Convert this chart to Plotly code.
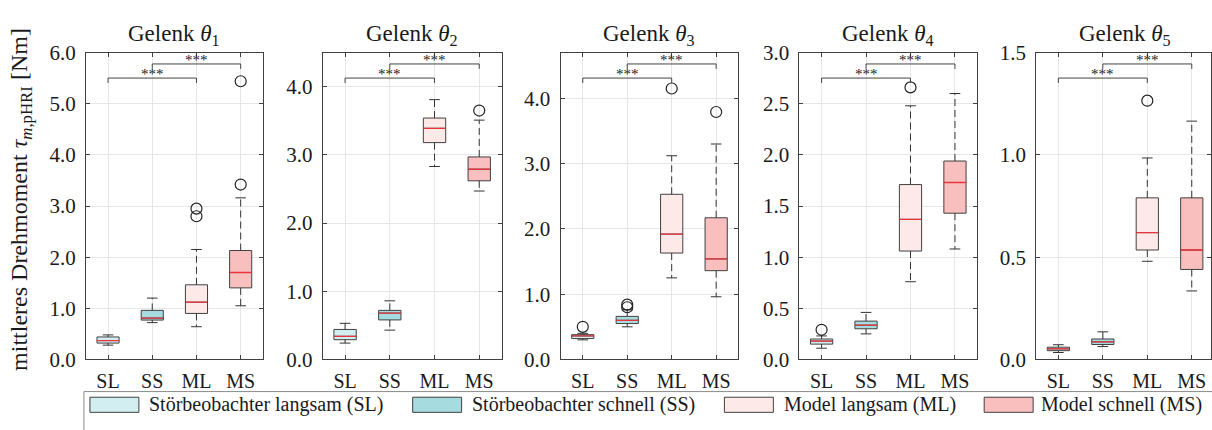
import plotly.graph_objects as go

W, H = 1212, 430

categories = ["SL", "SS", "ML", "MS"]
legend_labels = ["Störbeobachter langsam (SL)", "Störbeobachter schnell (SS)",
                 "Model langsam (ML)", "Model schnell (MS)"]
fill_colors = ["#d3eef0", "#a6dbe0", "#fde9e8", "#f9bfbf"]
joint_titles = ["Gelenk <i>θ</i><sub>1</sub>", "Gelenk <i>θ</i><sub>2</sub>",
                "Gelenk <i>θ</i><sub>3</sub>", "Gelenk <i>θ</i><sub>4</sub>",
                "Gelenk <i>θ</i><sub>5</sub>"]
y_label = "mittleres Drehmoment <i>τ</i><sub><i>m</i>,pHRI</sub> [Nm]"

y_ranges = [[0, 6], [0, 4.5], [0, 4.7], [0, 3], [0, 1.5]]
y_tickvals = [[0, 1, 2, 3, 4, 5, 6], [0, 1, 2, 3, 4], [0, 1, 2, 3, 4],
              [0, 0.5, 1, 1.5, 2, 2.5, 3], [0, 0.5, 1, 1.5]]

# box statistics per joint: order SL, SS, ML, MS
j1_lo = [0.28, 0.72, 0.64, 1.05]
j1_q1 = [0.32, 0.77, 0.90, 1.40]
j1_med = [0.37, 0.81, 1.12, 1.70]
j1_q3 = [0.44, 0.96, 1.46, 2.13]
j1_hi = [0.48, 1.20, 2.15, 3.16]
j1_out = [[], [], [2.80, 2.95], [3.42, 5.44]]

j2_lo = [0.24, 0.43, 2.83, 2.47]
j2_q1 = [0.29, 0.58, 3.18, 2.62]
j2_med = [0.34, 0.68, 3.39, 2.79]
j2_q3 = [0.44, 0.72, 3.54, 2.97]
j2_hi = [0.53, 0.86, 3.81, 3.51]
j2_out = [[], [], [], [3.65]]

j3_lo = [0.30, 0.50, 1.25, 0.96]
j3_q1 = [0.32, 0.55, 1.63, 1.36]
j3_med = [0.36, 0.60, 1.92, 1.54]
j3_q3 = [0.38, 0.66, 2.53, 2.17]
j3_hi = [0.40, 0.76, 3.12, 3.30]
j3_out = [[0.50], [0.80, 0.84], [4.15], [3.79]]

j4_lo = [0.11, 0.25, 0.76, 1.08]
j4_q1 = [0.15, 0.30, 1.06, 1.43]
j4_med = [0.18, 0.335, 1.37, 1.73]
j4_q3 = [0.20, 0.375, 1.71, 1.94]
j4_hi = [0.23, 0.46, 2.48, 2.60]
j4_out = [[0.29], [], [2.66], []]

j5_lo = [0.034, 0.063, 0.48, 0.335]
j5_q1 = [0.043, 0.073, 0.535, 0.44]
j5_med = [0.052, 0.086, 0.62, 0.535]
j5_q3 = [0.060, 0.100, 0.79, 0.79]
j5_hi = [0.072, 0.135, 0.985, 1.165]
j5_out = [[], [], [1.265], []]

comparisons = [(1, 3), (2, 4)]
comparison_text = ["***", "***"]

lo_all = [j1_lo, j2_lo, j3_lo, j4_lo, j5_lo]
q1_all = [j1_q1, j2_q1, j3_q1, j4_q1, j5_q1]
med_all = [j1_med, j2_med, j3_med, j4_med, j5_med]
q3_all = [j1_q3, j2_q3, j3_q3, j4_q3, j5_q3]
hi_all = [j1_hi, j2_hi, j3_hi, j4_hi, j5_hi]
out_all = [j1_out, j2_out, j3_out, j4_out, j5_out]

# ---- layout geometry (pixels) ----
panel_px = [(86, 263), (323, 502), (561, 739), (800, 978), (1037, 1215)]
plot_top, plot_bot = 43, 368
FONT = "Liberation Serif, Times New Roman, serif"
EDGE = "#404040"
MEDIAN = "#e8343c"
BOXW = 0.5
CAPW = 0.12

fig = go.Figure()
layout = dict(width=W, height=H, margin=dict(l=0, r=0, t=0, b=0),
              paper_bgcolor="white", plot_bgcolor="white", showlegend=False,
              font=dict(family=FONT, size=19, color="#1a1a1a"))
shapes = []
annotations = []

for k in range(5):
    ax = "" if k == 0 else str(k + 1)
    xa, ya = "x" + ax, "y" + ax
    l, r = panel_px[k]
    unit = (r - l) / 4.0
    r_clip = min(r, W)
    xrange = [0.5, 0.5 + (r_clip - l) / unit]
    layout["xaxis" + ax] = dict(
        domain=[l / W, r_clip / W], range=xrange, anchor=ya,
        tickvals=[1, 2, 3, 4], ticktext=categories,
        showline=True, linecolor=EDGE, linewidth=1, mirror="ticks",
        ticks="inside", ticklen=4, tickcolor=EDGE,
        showgrid=True, gridcolor="#e6e6e6", gridwidth=1, zeroline=False,
        tickfont=dict(family=FONT, size=20, color="#1a1a1a"),
        ticklabelstandoff=4, fixedrange=True)
    layout["yaxis" + ax] = dict(
        domain=[1 - plot_bot / H, 1 - plot_top / H], range=y_ranges[k], anchor=xa,
        tickvals=y_tickvals[k], tickformat=".1f",
        showline=True, linecolor=EDGE, linewidth=1, mirror="ticks",
        ticks="inside", ticklen=4, tickcolor=EDGE,
        showgrid=True, gridcolor="#e6e6e6", gridwidth=1, zeroline=False,
        tickfont=dict(family=FONT, size=21, color="#1a1a1a"),
        ticklabelstandoff=5, fixedrange=True)

    for i in range(4):
        xp = i + 1
        fig.add_trace(go.Box(
            x=[xp], q1=[q1_all[k][i]], median=[med_all[k][i]], q3=[q3_all[k][i]],
            lowerfence=[q1_all[k][i]], upperfence=[q3_all[k][i]],
            width=BOXW, whiskerwidth=0, fillcolor=fill_colors[i],
            line=dict(color=EDGE, width=1), boxpoints=False,
            xaxis=xa, yaxis=ya, hoverinfo="skip"))
        # dashed whiskers
        fig.add_trace(go.Scatter(
            x=[xp, xp, None, xp, xp],
            y=[q3_all[k][i], hi_all[k][i], None, q1_all[k][i], lo_all[k][i]],
            mode="lines", line=dict(color="#333333", width=1, dash="7px,4px"),
            xaxis=xa, yaxis=ya, hoverinfo="skip"))
        # caps
        fig.add_trace(go.Scatter(
            x=[xp - CAPW, xp + CAPW, None, xp - CAPW, xp + CAPW],
            y=[hi_all[k][i], hi_all[k][i], None, lo_all[k][i], lo_all[k][i]],
            mode="lines", line=dict(color="#333333", width=1),
            xaxis=xa, yaxis=ya, hoverinfo="skip"))
        # median
        fig.add_trace(go.Scatter(
            x=[xp - BOXW / 2, xp + BOXW / 2], y=[med_all[k][i], med_all[k][i]],
            mode="lines", line=dict(color=MEDIAN, width=1.3),
            xaxis=xa, yaxis=ya, hoverinfo="skip"))
        if out_all[k][i]:
            fig.add_trace(go.Scatter(
                x=[xp] * len(out_all[k][i]), y=out_all[k][i], mode="markers",
                marker=dict(symbol="circle-open", size=11, color="#222222",
                            line=dict(width=1.2, color="#222222")),
                xaxis=xa, yaxis=ya, hoverinfo="skip"))

    # significance brackets
    levels = [0.917, 0.963]
    drop = 0.016
    for (a, b), lev, txt in zip(comparisons, levels, comparison_text):
        yd = ya + " domain"
        for seg in [(a, lev - drop, a, lev), (a, lev, b, lev), (b, lev, b, lev - drop)]:
            shapes.append(dict(type="line", xref=xa, yref=yd,
                               x0=seg[0], y0=seg[1], x1=seg[2], y1=seg[3],
                               line=dict(color="#444444", width=1)))
        annotations.append(dict(xref=xa, yref=yd, x=(a + b) / 2, y=lev,
                                text=txt, showarrow=False, yanchor="bottom",
                                yshift=-6, font=dict(family=FONT, size=15, color="#222222")))

    # title
    annotations.append(dict(xref="paper", yref="paper", x=((l + r) / 2) / W,
                            y=1 - 24 / H, yanchor="middle", xanchor="center",
                            text=joint_titles[k], showarrow=False,
                            font=dict(family=FONT, size=23, color="#1a1a1a")))

# y-axis label
annotations.append(dict(xref="paper", yref="paper", x=21 / W, y=1 - 198 / H,
                        text=y_label, textangle=-90, showarrow=False,
                        xanchor="center", yanchor="middle",
                        font=dict(family=FONT, size=24, color="#1a1a1a")))

# custom legend
shapes.append(dict(type="rect", xref="paper", yref="paper",
                   x0=84 / W, x1=1.02, y0=-0.05, y1=1 - 402 / H,
                   line=dict(color="#8c8c8c", width=1), fillcolor="rgba(0,0,0,0)"))
sw_x = [90, 413, 725, 985]
tx_x = [147, 470, 783, 1040]
for i in range(4):
    shapes.append(dict(type="rect", xref="paper", yref="paper",
                       x0=sw_x[i] / W, x1=(sw_x[i] + 49) / W,
                       y0=1 - 424 / H, y1=1 - 408 / H,
                       line=dict(color=EDGE, width=1), fillcolor=fill_colors[i]))
    annotations.append(dict(xref="paper", yref="paper", x=tx_x[i] / W, y=1 - 416 / H,
                            xanchor="left", yanchor="middle", text=legend_labels[i],
                            showarrow=False,
                            font=dict(family=FONT, size=20, color="#1a1a1a")))

layout["shapes"] = shapes
layout["annotations"] = annotations
fig.update_layout(**layout)
fig.write_html("out.html", config={"displayModeBar": False},
               post_script="document.body.style.margin='0';document.body.style.overflow='hidden';")
